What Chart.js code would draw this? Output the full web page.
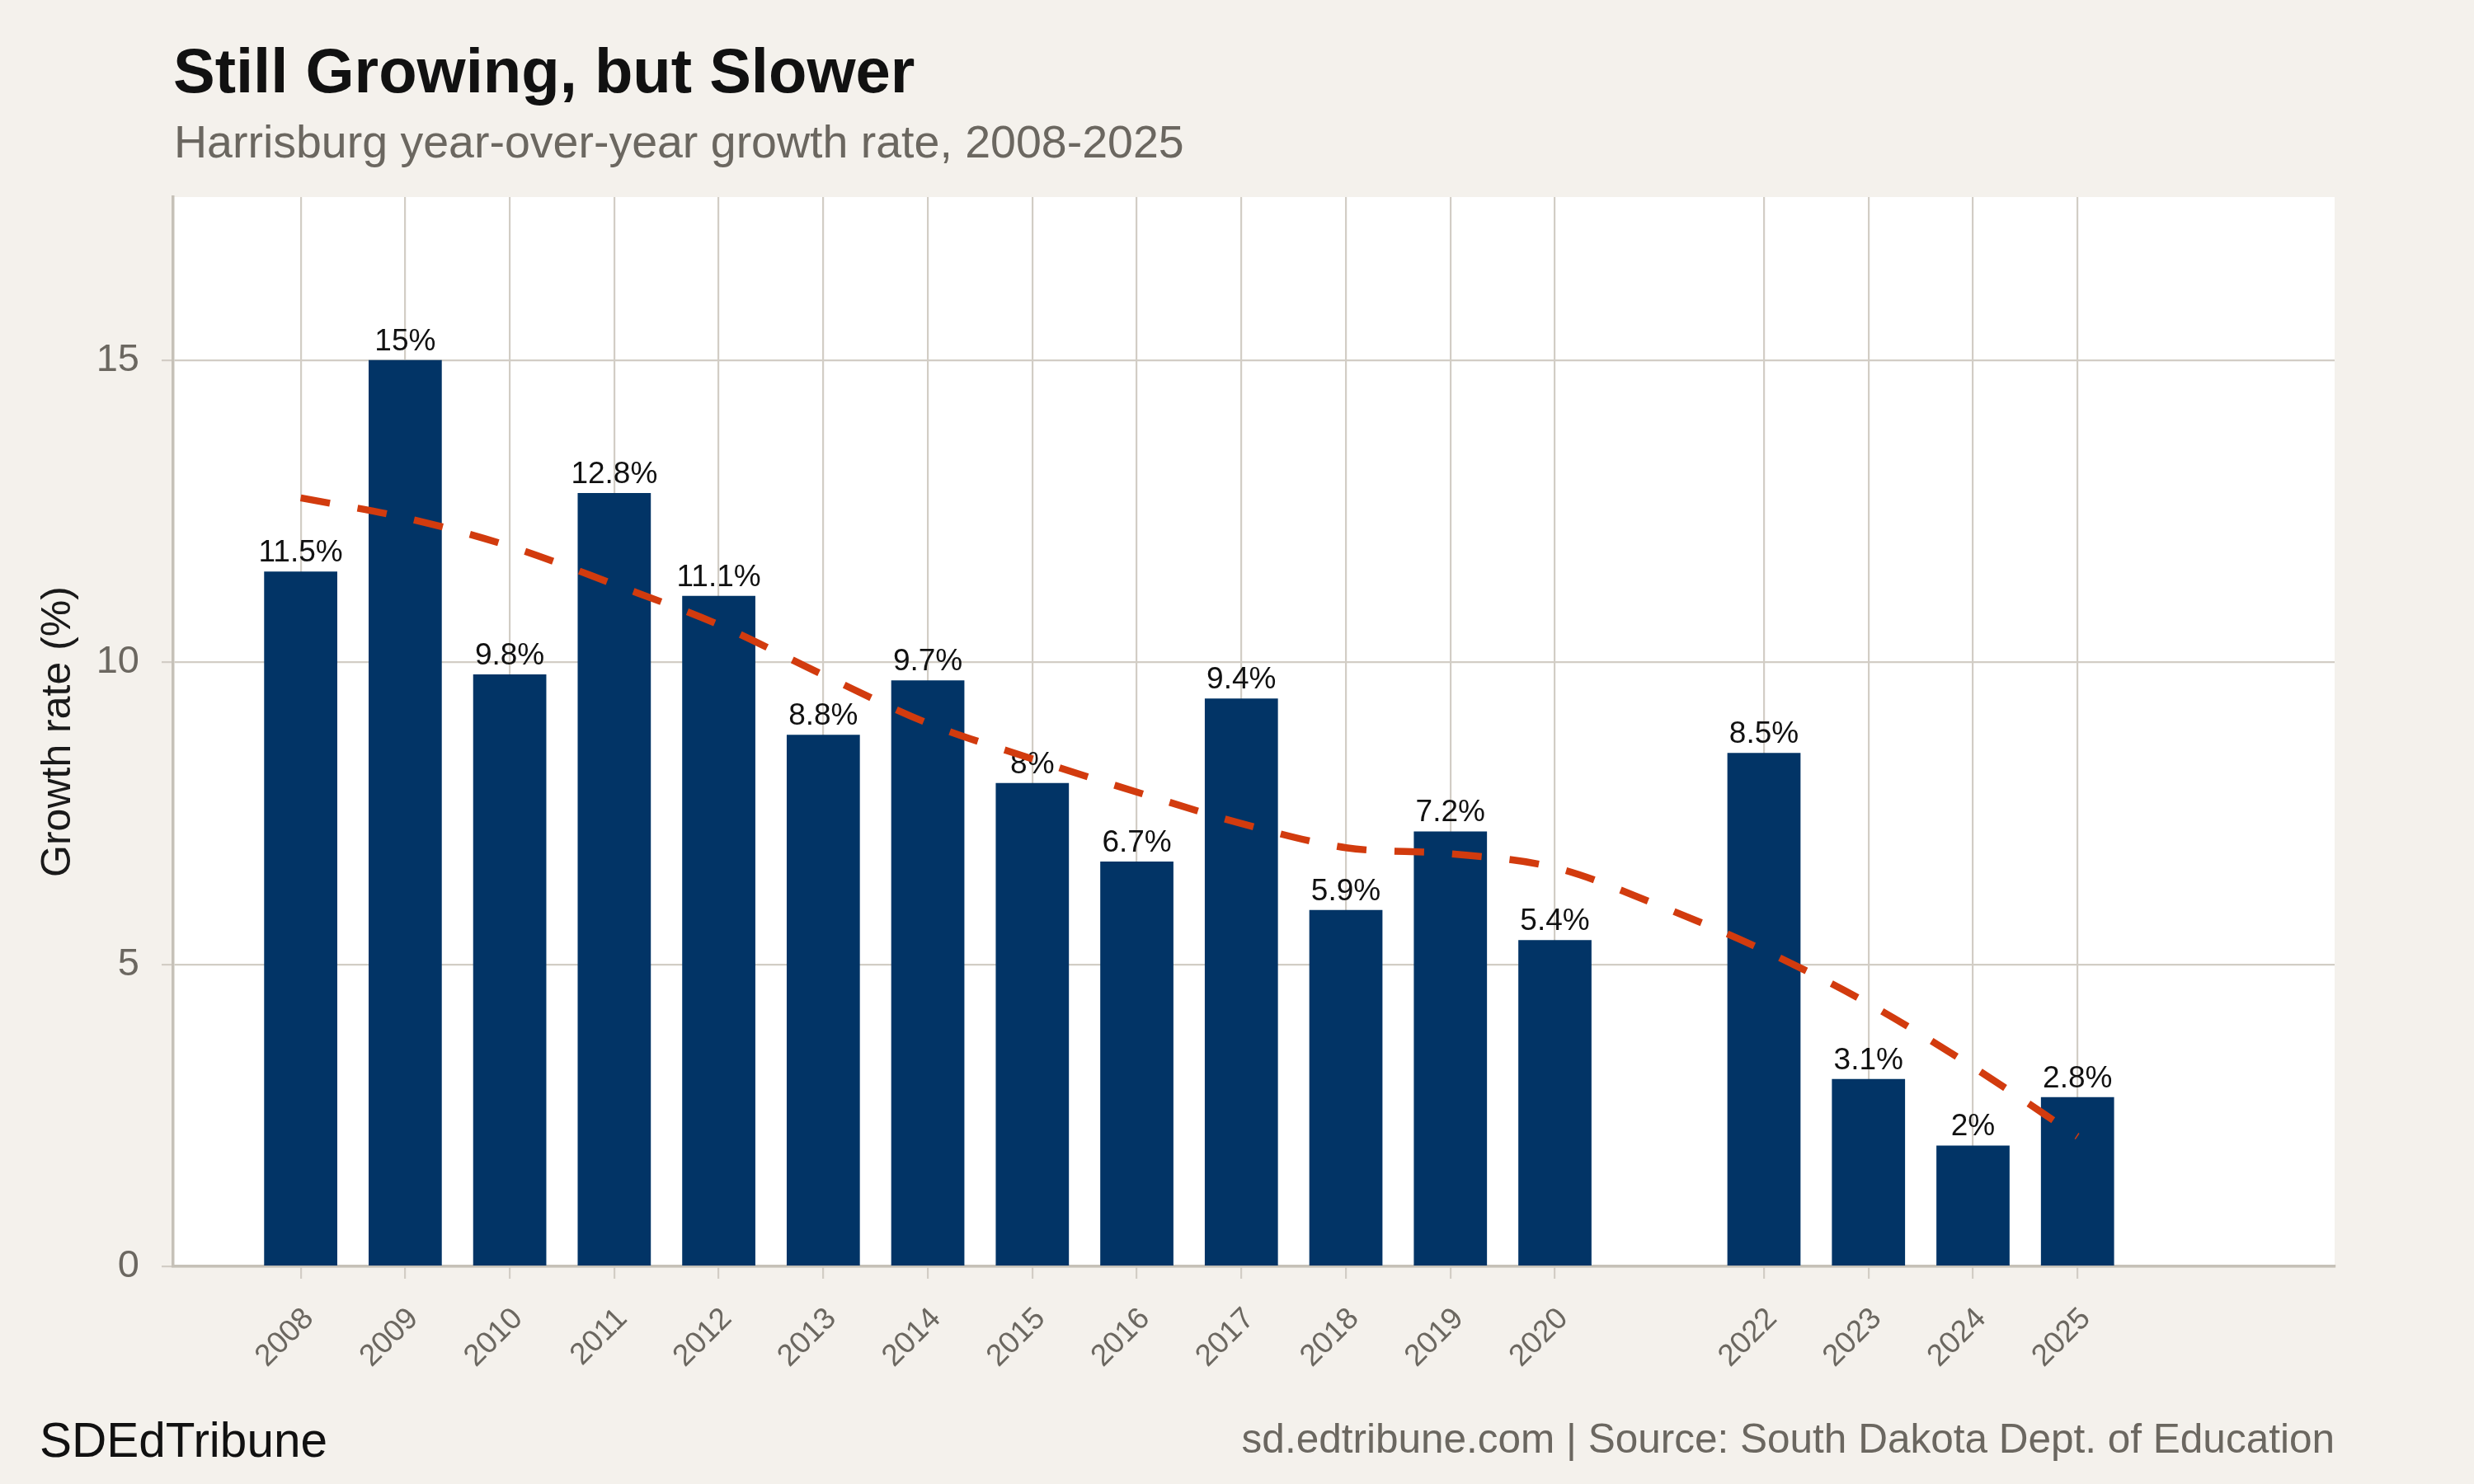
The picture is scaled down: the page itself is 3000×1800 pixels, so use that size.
<!DOCTYPE html>
<html><head><meta charset="utf-8">
<script src="https://cdn.jsdelivr.net/npm/chart.js@4"></script>
<style>
html,body{margin:0;padding:0;background:#f4f1ec;}
#wrap{position:relative;width:3000px;height:1800px;overflow:hidden;font-family:"Liberation Sans",Arial,Helvetica,sans-serif;}
canvas{position:absolute;left:0;top:0;}
.t{position:absolute;white-space:nowrap;line-height:1;}
</style></head><body>
<div id="wrap">
<canvas id="c" width="3000" height="1800"></canvas>
<div class="t" style="left:210px;top:48px;font-size:76px;font-weight:bold;color:#111;">Still Growing, but Slower</div>
<div class="t" style="left:211px;top:145px;font-size:55.5px;color:#6b6760;">Harrisburg year-over-year growth rate, 2008-2025</div>
<div class="t" style="left:48px;top:1718px;font-size:58.5px;color:#111;">SDEdTribune</div>
<div class="t" style="right:169px;top:1720px;font-size:49.5px;color:#6b6760;">sd.edtribune.com | Source: South Dakota Dept. of Education</div>
</div>
<script>
const years = [2008,2009,2010,2011,2012,2013,2014,2015,2016,2017,2018,2019,2020,2022,2023,2024,2025];
const growth = [11.5,15,9.8,12.8,11.1,8.8,9.7,8,6.7,9.4,5.9,7.2,5.4,8.5,3.1,2,2.8];
const trendYears = [2008,2009,2010,2011,2012,2013,2014,2015,2016,2017,2018,2019,2020,2021,2022,2023,2024,2025];
const trendValues = [12.72,12.39,11.92,11.29,10.62,9.79,8.99,8.40,7.85,7.33,6.93,6.83,6.60,5.97,5.23,4.35,3.30,2.15];
const yTicks = [0,5,10,15];

const FONT = '"Liberation Sans", Arial, Helvetica, sans-serif';
Chart.defaults.font.family = FONT;

const bgPlugin = {
  id: 'panelbg',
  beforeDraw(chart) {
    const a = chart.chartArea, c = chart.ctx;
    c.save(); c.fillStyle = '#ffffff';
    c.fillRect(a.left, a.top, a.right - a.left, a.bottom - a.top);
    c.restore();
  }
};
const labelPlugin = {
  id: 'vlabels',
  afterDatasetDraw(chart, args) {
    if (args.meta.type !== 'bar') return;
    const c = chart.ctx;
    const ds = chart.data.datasets[args.index].data;
    c.save();
    c.font = '37px ' + FONT;
    c.fillStyle = '#111111';
    c.textAlign = 'center';
    c.textBaseline = 'alphabetic';
    args.meta.data.forEach((el, i) => {
      c.fillText(ds[i].y + '%', el.x, el.y - 12);
    });
    c.restore();
  }
};

const gridColor = '#d2cdc5';
const borderColor = '#c6c1b8';

new Chart(document.getElementById('c'), {
  type: 'bar',
  data: {
    datasets: [
      {
        type: 'line',
        data: trendYears.map((x, i) => ({x: x, y: trendValues[i]})),
        borderColor: '#d23b0e',
        borderWidth: 8.5,
        borderDash: [36, 34],
        borderCapStyle: 'butt',
        pointRadius: 0,
        cubicInterpolationMode: 'monotone',
        fill: false,
        order: 0
      },
      {
        type: 'bar',
        data: years.map((x, i) => ({x: x, y: growth[i]})),
        backgroundColor: '#023466',
        barPercentage: 0.7,
        categoryPercentage: 1,
        order: 1
      }
    ]
  },
  options: {
    responsive: false,
    animation: false,
    devicePixelRatio: 1,
    layout: {padding: {top: 239, right: 169, left: 0, bottom: 0}},
    plugins: {legend: {display: false}, tooltip: {enabled: false}, title: {display: false}},
    scales: {
      x: {
        type: 'linear',
        offset: false,
        min: 2006.78, max: 2027.46,
        afterBuildTicks: s => { s.ticks = years.map(v => ({value: v})); },
        afterFit: s => { s.height = 264; },
        ticks: {
          autoSkip: false, minRotation: 45, maxRotation: 45,
          color: '#6b6760', font: {size: 37, family: FONT}, padding: 27, labelOffset: 10,
          callback: v => String(v)
        },
        grid: {color: gridColor, lineWidth: 2.2, tickLength: 15, offset: false, drawOnChartArea: true},
        border: {color: borderColor, width: 3.5}
      },
      y: {
        min: 0, max: 17.7,
        afterBuildTicks: s => { s.ticks = yTicks.map(v => ({value: v})); },
        afterFit: s => { s.width = 210; },
        ticks: {color: '#6b6760', font: {size: 47, family: FONT}, padding: 27, callback: v => String(v)},
        grid: {color: gridColor, lineWidth: 2.2, tickLength: 14},
        border: {color: borderColor, width: 3.5},
        title: {display: true, text: 'Growth rate (%)', color: '#1a1a1a', font: {size: 50, family: FONT}, padding: {top: 41, bottom: 0}}
      }
    }
  },
  plugins: [bgPlugin, labelPlugin]
});
</script>
</body></html>
